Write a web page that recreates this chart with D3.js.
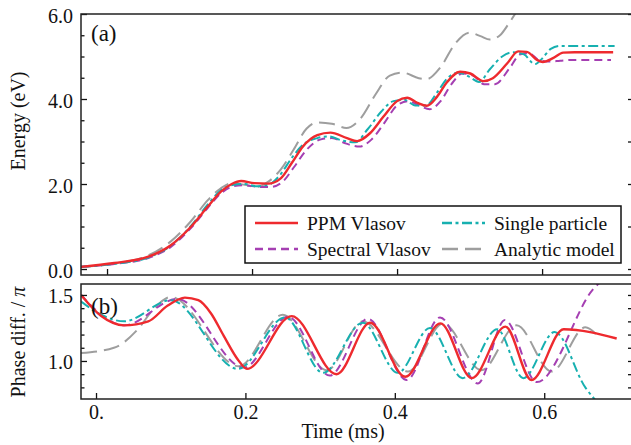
<!DOCTYPE html>
<html>
<head>
<meta charset="utf-8">
<script src="https://cdn.jsdelivr.net/npm/d3@7"></script>
</head>
<body style="margin:0; background:#fff">
<svg width="631" height="445"></svg>
<script>
// chart data: [time (ms), value]

// panel (a): energy (eV)
var ppmEnergy = [[-0.036,0.05],[0.01,0.14],[0.057,0.29],[0.088,0.56],[0.116,1.0],[0.139,1.47],[0.157,1.82],[0.172,2.0],
  [0.185,2.07],[0.203,2.02],[0.222,2.01],[0.24,2.14],[0.255,2.5],[0.27,2.88],[0.29,3.15],[0.308,3.21],[0.331,3.08],
  [0.345,3.01],[0.363,3.2],[0.381,3.58],[0.4,3.95],[0.414,4.03],[0.428,3.91],[0.441,3.84],[0.455,4.05],[0.469,4.4],
  [0.487,4.64],[0.501,4.6],[0.519,4.42],[0.532,4.49],[0.552,4.84],[0.567,5.12],[0.579,5.11],[0.593,4.92],[0.601,4.87],
  [0.615,4.96],[0.629,5.09],[0.645,5.1],[0.698,5.1]];
var singleEnergy = [[-0.036,0.05],[0.01,0.12],[0.057,0.27],[0.088,0.55],[0.116,1.02],[0.139,1.52],[0.157,1.85],[0.175,1.98],
  [0.19,2.0],[0.205,1.95],[0.222,1.98],[0.238,2.2],[0.255,2.62],[0.27,2.92],[0.29,3.08],[0.305,3.12],[0.325,3.02],
  [0.342,2.98],[0.36,3.3],[0.378,3.7],[0.395,3.95],[0.41,3.98],[0.425,3.85],[0.44,3.85],[0.455,4.15],[0.47,4.5],
  [0.485,4.62],[0.5,4.52],[0.513,4.4],[0.528,4.7],[0.545,5.0],[0.56,5.1],[0.575,5.05],[0.59,4.82],[0.6,4.95],
  [0.612,5.18],[0.625,5.25],[0.64,5.25],[0.70,5.25]];
var spectralEnergy = [[-0.036,0.05],[0.01,0.12],[0.057,0.26],[0.088,0.52],[0.116,0.97],[0.139,1.44],[0.157,1.78],[0.175,1.95],
  [0.19,1.97],[0.21,1.93],[0.225,1.93],[0.242,2.05],[0.258,2.4],[0.275,2.8],[0.295,3.05],[0.31,3.08],[0.33,2.95],
  [0.348,2.88],[0.365,3.05],[0.383,3.45],[0.4,3.85],[0.415,3.95],[0.43,3.85],[0.445,3.76],[0.46,3.95],[0.475,4.35],
  [0.49,4.6],[0.505,4.55],[0.52,4.35],[0.535,4.35],[0.555,4.72],[0.57,5.05],[0.582,5.08],[0.595,4.92],[0.61,4.88],
  [0.625,4.9],[0.64,4.92],[0.695,4.92]];
var analyticEnergy = [[-0.036,0.05],[0.01,0.13],[0.057,0.32],[0.088,0.65],[0.116,1.13],[0.139,1.62],[0.157,1.9],[0.172,2.02],
  [0.19,1.98],[0.205,1.93],[0.222,2.05],[0.24,2.35],[0.257,2.8],[0.275,3.3],[0.29,3.45],[0.31,3.42],[0.33,3.32],
  [0.35,3.55],[0.37,4.1],[0.39,4.55],[0.408,4.62],[0.43,4.49],[0.441,4.47],[0.46,4.75],[0.48,5.3],[0.5,5.56],
  [0.515,5.48],[0.528,5.4],[0.542,5.5],[0.555,5.8],[0.57,6.2]];

// panel (b): phase difference / pi
var ppmPhase = [[-0.02,1.5],[0.007,1.34],[0.0375,1.27],[0.07,1.3],[0.096,1.42],[0.119,1.48],[0.137,1.46],[0.154,1.36],
  [0.171,1.19],[0.19,1.01],[0.202,0.94],[0.262,1.34],[0.322,0.9],[0.367,1.29],[0.414,0.88],[0.461,1.285],
  [0.503,0.87],[0.548,1.26],[0.583,0.856],[0.626,1.24],[0.697,1.17]];
var singlePhase = [[-0.02,1.45],[0.007,1.35],[0.0375,1.3],[0.1,1.46],[0.19,0.94],[0.253,1.33],[0.304,0.91],[0.357,1.29],
  [0.404,0.91],[0.447,1.25],[0.491,0.87],[0.537,1.24],[0.572,0.87],[0.614,1.22],[0.655,0.8],[0.672,0.68]];
var spectralPhase = [[-0.02,1.5],[0.007,1.35],[0.0375,1.27],[0.109,1.47],[0.198,0.95],[0.257,1.335],[0.313,0.89],
  [0.364,1.32],[0.416,0.856],[0.4605,1.33],[0.511,0.83],[0.5475,1.31],[0.59,0.84],[0.668,1.56],[0.69,1.66]];
var analyticPhase = [[-0.02,1.06],[0.024,1.1],[0.056,1.24],[0.078,1.4],[0.1,1.485],[0.191,0.96],[0.25,1.35],[0.309,0.93],
  [0.357,1.3],[0.418,0.92],[0.4645,1.285],[0.516,0.93],[0.563,1.27],[0.61,0.92],[0.655,1.255],[0.67,1.2]];

var seriesNames = ["PPM Vlasov", "Spectral Vlasov", "Single particle", "Analytic model"];
var timeTicks = [0, 0.2, 0.4, 0.6];
var timeTickLabels = ["0.", "0.2", "0.4", "0.6"];
var energyTicks = [0, 2, 4, 6];
var energyTickLabels = ["0.0", "2.0", "4.0", "6.0"];
var phaseTicks = [1.0, 1.5];
var phaseTickLabels = ["1.0", "1.5"];

var app = app || {};

app.main = (function(){

  // generic "serif" falls back to a sans face here, so name the one font inline
  var SERIF = "'Liberation Serif'";

  var styles = {
    "PPM Vlasov":      {color: "#ee2a2e", width: 2.4, dash: null},
    "Spectral Vlasov": {color: "#a53fb2", width: 2, dash: "8,5"},
    "Single particle": {color: "#17b0b0", width: 2, dash: "10,3.5,3,3.5"},
    "Analytic model":  {color: "#9e9e9e", width: 2, dash: "16,7"}
  };

  function drawLines(g, x, y, series){
    // gray first, red on top
    var order = ["Analytic model", "Spectral Vlasov", "Single particle", "PPM Vlasov"];
    var line = d3.line()
      .x(function(d){ return x(d[0]); })
      .y(function(d){ return y(d[1]); })
      .curve(d3.curveMonotoneX);
    order.forEach(function(name){
      var s = styles[name];
      g.append("path")
        .datum(series[name])
        .attr("d", line)
        .attr("fill", "none")
        .attr("stroke", s.color)
        .attr("stroke-width", s.width)
        .attr("stroke-dasharray", s.dash);
    });
  }

  function frame(svg, left, right, top, bottom){
    svg.append("path")
      .attr("d", "M" + right + "," + top + "H" + left + "V" + bottom + "H" + right)
      .attr("fill", "none").attr("stroke", "#222").attr("stroke-width", 1.5);
  }

  function axis(svg, tr, ax){
    var g = svg.append("g").attr("transform", tr).call(ax);
    g.attr("font-family", null).attr("font-size", null);
    g.select(".domain").remove();
    g.selectAll("line").attr("stroke", "#111").attr("stroke-width", 1.3);
    g.selectAll("text").style("font-family", SERIF).attr("font-size", 20).attr("fill", "#111");
    return g;
  }

  function label(svg, txt, size){
    return svg.append("text")
      .style("font-family", SERIF).attr("font-size", size)
      .attr("fill", "#111").text(txt);
  }

  function drawChart(){
    var svg = d3.select("svg");
    var left = 81, right = 632;

    // ---------- panel (a)
    var aTop = 14, aBot = 275;
    var xa = d3.scaleLinear().domain([-0.0359, 0.724]).range([left, right]);
    var ya = d3.scaleLinear().domain([-0.141, 6.0]).range([aBot, aTop]);

    svg.append("clipPath").attr("id", "clipA").append("rect")
      .attr("x", left).attr("y", aTop).attr("width", right - left).attr("height", aBot - aTop);
    var ga = svg.append("g").attr("clip-path", "url(#clipA)");
    drawLines(ga, xa, ya, {
      "PPM Vlasov": ppmEnergy, "Spectral Vlasov": spectralEnergy,
      "Single particle": singleEnergy, "Analytic model": analyticEnergy
    });

    // minor + major ticks, pointing inward
    axis(svg, "translate(" + left + ",0)",
      d3.axisLeft(ya).tickValues([0.5,1,1.5,2.5,3,3.5,4.5,5,5.5]).tickSize(-3.5).tickFormat(""));
    axis(svg, "translate(" + left + ",0)",
      d3.axisLeft(ya).tickValues(energyTicks).tickSize(-6).tickPadding(8)
        .tickFormat(function(d, i){ return energyTickLabels[i]; }))
      .selectAll("text").attr("dy", "0.42em");
    axis(svg, "translate(" + right + ",0)",
      d3.axisRight(ya).tickValues(d3.range(0, 6.5, 1)).tickSize(-4).tickFormat(""));
    axis(svg, "translate(0," + aBot + ")",
      d3.axisBottom(xa).tickValues(timeTicks).tickSize(-6).tickFormat(""));
    frame(svg, left, right, aTop, aBot);

    label(svg, "(a)", 23).attr("x", 91).attr("y", 41);
    label(svg, "Energy (eV)", 20)
      .attr("transform", "translate(25,121) rotate(-90)")
      .attr("text-anchor", "middle");

    // legend
    var lg = svg.append("g");
    lg.append("rect").attr("x", 245).attr("y", 206).attr("width", 376).attr("height", 57)
      .attr("fill", "#fff").attr("stroke", "#111").attr("stroke-width", 1.5);
    var legendPos = {
      "PPM Vlasov":      {x: 255, y: 223},
      "Spectral Vlasov": {x: 255, y: 249},
      "Single particle": {x: 442, y: 223},
      "Analytic model":  {x: 442, y: 249}
    };
    seriesNames.forEach(function(name){
      var p = legendPos[name], s = styles[name];
      lg.append("line").attr("x1", p.x).attr("x2", p.x + 43).attr("y1", p.y).attr("y2", p.y)
        .attr("stroke", s.color).attr("stroke-width", s.width + 0.3).attr("stroke-dasharray", s.dash);
      label(lg, name, 19.5).attr("x", p.x + 52).attr("y", p.y + 6.5);
    });

    // ---------- panel (b)
    var bTop = 284, bBot = 399;
    var xb = d3.scaleLinear().domain([-0.0201, 0.7175]).range([left, right]);
    var yb = d3.scaleLinear().domain([0.712, 1.583]).range([bBot, bTop]);

    svg.append("clipPath").attr("id", "clipB").append("rect")
      .attr("x", left).attr("y", bTop).attr("width", right - left).attr("height", bBot - bTop);
    var gb = svg.append("g").attr("clip-path", "url(#clipB)");
    drawLines(gb, xb, yb, {
      "PPM Vlasov": ppmPhase, "Spectral Vlasov": spectralPhase,
      "Single particle": singlePhase, "Analytic model": analyticPhase
    });

    var minorPhase = [0.8, 0.9, 1.1, 1.2, 1.3, 1.4];
    axis(svg, "translate(" + left + ",0)",
      d3.axisLeft(yb).tickValues(minorPhase).tickSize(-3.5).tickFormat(""));
    axis(svg, "translate(" + left + ",0)",
      d3.axisLeft(yb).tickValues(phaseTicks).tickSize(-6).tickPadding(8)
        .tickFormat(function(d, i){ return phaseTickLabels[i]; }))
      .selectAll("text").attr("dy", "0.36em");
    axis(svg, "translate(" + right + ",0)",
      d3.axisRight(yb).tickValues(minorPhase.concat(phaseTicks)).tickSize(-4).tickFormat(""));
    axis(svg, "translate(0," + bBot + ")",
      d3.axisBottom(xb).tickValues(timeTicks).tickSize(-6).tickPadding(6)
        .tickFormat(function(d, i){ return timeTickLabels[i]; }));
    frame(svg, left, right, bTop, bBot);

    label(svg, "(b)", 23).attr("x", 91).attr("y", 314);
    var pt = label(svg, "Phase diff. / ", 20)
      .attr("transform", "translate(25,342) rotate(-90)")
      .attr("text-anchor", "middle");
    pt.append("tspan").style("font-style", "italic").text("\u03c0");

    label(svg, "Time (ms)", 20).attr("x", 343).attr("y", 438).attr("text-anchor", "middle");
  }

  var init = function(){
    drawChart();
  };

  return {
    init: init
  };
})();

window.addEventListener('DOMContentLoaded', app.main.init);
</script>
</body>
</html>
